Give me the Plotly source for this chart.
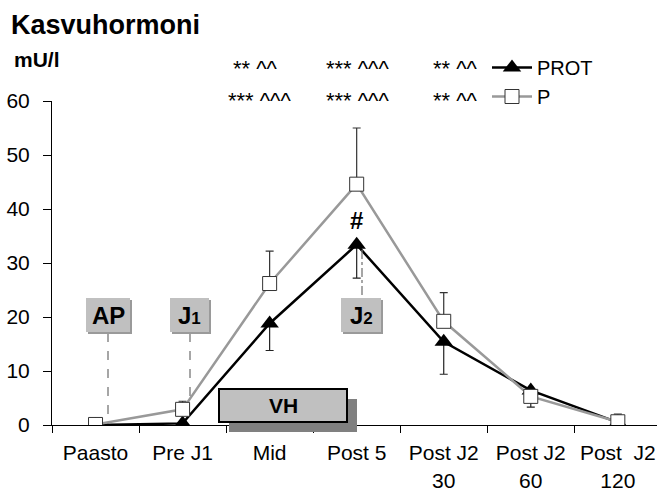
import plotly.graph_objects as go

categories = ["Paasto", "Pre J1", "Mid", "Post 5", "Post J2<br>30", "Post J2<br>60", "Post\u00a0\u00a0J2<br>120"]
prot_values = [0.0, 0.3, 18.8, 33.4, 15.4, 6.4, 0.5]
prot_err_minus = [0.0, 0.0, 5.0, 6.2, 6.0, 3.1, 0.0]
p_values = [0.1, 2.9, 26.2, 44.6, 19.2, 5.3, 0.6]
p_err_plus = [0.0, 1.5, 6.0, 10.4, 5.3, 0.0, 1.4]
sig_row1 = ["** ^^", "*** ^^^", "** ^^"]
sig_row2 = ["*** ^^^", "*** ^^^", "** ^^"]

W, H = 657, 491
L, R, T, B = 52, 0, 101, 66
PW, PH = W - L - R, H - T - B
FONT = "Arial, Liberation Sans, sans-serif"

def pxp(px):
    return (px - L) / PW

def pyp(py):
    return (H - B - py) / PH

fig = go.Figure()
fig.add_trace(go.Scatter(
    x=categories, y=prot_values, name="PROT", mode="lines+markers",
    line=dict(color="black", width=2.5),
    marker=dict(symbol="triangle-up", size=16, color="black"),
    error_y=dict(type="data", symmetric=False, array=[0]*7, arrayminus=prot_err_minus,
                 color="#222222", thickness=1.2, width=4),
))
fig.add_trace(go.Scatter(
    x=categories, y=p_values, name="P", mode="lines+markers",
    line=dict(color="#999999", width=2.5),
    marker=dict(symbol="square", size=14, color="white", line=dict(color="#333333", width=1)),
    error_y=dict(type="data", symmetric=False, array=p_err_plus, arrayminus=[0]*7,
                 color="#333333", thickness=1.2, width=4),
))

shapes = []
annotations = []

def box(x0, y0, x1, y1, text, shadow=2, fsize=24, border=None, sh_col="#9a9a9a"):
    shapes.append(dict(type="rect", xref="paper", yref="paper",
                       x0=pxp(x0 + shadow), x1=pxp(x1 + shadow),
                       y0=pyp(y0 + shadow), y1=pyp(y1 + shadow),
                       fillcolor=sh_col, line=dict(width=0)))
    shapes.append(dict(type="rect", xref="paper", yref="paper",
                       x0=pxp(x0), x1=pxp(x1), y0=pyp(y0), y1=pyp(y1),
                       fillcolor="#c0c0c0",
                       line=dict(width=2 if border else 0, color=border or "#c0c0c0")))
    annotations.append(dict(x=pxp((x0 + x1) / 2), y=pyp((y0 + y1) / 2), xref="paper", yref="paper",
                            xanchor="center", yanchor="middle",
                            text=text, showarrow=False,
                            font=dict(family=FONT, size=fsize, color="black")))

def vline(px, py0, py1, dash):
    shapes.append(dict(type="line", xref="paper", yref="paper", x0=pxp(px), x1=pxp(px),
                       y0=pyp(py0), y1=pyp(py1), line=dict(color="#777777", width=1.3, dash=dash)))

vline(108, 333, 424, "dash")
vline(190, 333, 401, "dash")
vline(362, 250, 298, "dashdot")

box(86, 298, 130, 332, "<b>AP</b>")
box(170, 298, 209, 332, "<b>J<span style='font-size:17px'>1</span></b>")
box(341, 298, 381, 332, "<b>J<span style='font-size:17px'>2</span></b>")
box(219, 389, 347, 422, "<b>VH</b>", shadow=10, fsize=21, border="black", sh_col="#808080")

# significance rows
for txt, px in zip(sig_row1, [256, 357, 455]):
    annotations.append(dict(x=pxp(px), y=pyp(68), xref="paper", yref="paper",
                            xanchor="center", yanchor="middle",
                            text=txt, showarrow=False, font=dict(family=FONT, size=22, color="black")))
for txt, px in zip(sig_row2, [259, 357, 455]):
    annotations.append(dict(x=pxp(px), y=pyp(100), xref="paper", yref="paper",
                            xanchor="center", yanchor="middle",
                            text=txt, showarrow=False, font=dict(family=FONT, size=22, color="black")))

annotations.append(dict(x=pxp(356), y=pyp(220), xref="paper", yref="paper", text="<b>#</b>",
                        xanchor="center", yanchor="middle",
                        showarrow=False, font=dict(family=FONT, size=24, color="black")))
annotations.append(dict(x=pxp(12), y=pyp(59), xref="paper", yref="paper",
                        xanchor="left", yanchor="middle", text="<b>mU/l</b>", showarrow=False,
                        font=dict(family=FONT, size=21, color="black")))

fig.update_layout(
    width=W, height=H,
    margin=dict(l=L, r=R, t=T, b=B, pad=0),
    paper_bgcolor="white", plot_bgcolor="white",
    title=dict(text="<b>Kasvuhormoni</b>", x=11 / W, xanchor="left", xref="container",
               y=1 - 25 / H, yanchor="middle", yref="container",
               font=dict(family=FONT, size=27, color="black")),
    font=dict(family=FONT, size=20, color="black"),
    showlegend=True,
    legend=dict(x=pxp(487), y=pyp(48), xanchor="left", yanchor="top",
                bgcolor="rgba(0,0,0,0)", font=dict(family=FONT, size=20, color="black"),
                tracegroupgap=0, itemwidth=40),
    xaxis=dict(type="category", range=[-0.5, 6.45], showline=True, linecolor="black", linewidth=1,
               ticks="outside", ticklen=7, tickcolor="black", tickson="boundaries",
               ticklabelstandoff=9,
               showgrid=False, zeroline=False, tickfont=dict(family=FONT, size=21)),
    yaxis=dict(range=[0, 60], tickvals=[0, 10, 20, 30, 40, 50, 60], showline=True,
               linecolor="black", linewidth=1, ticks="outside", ticklen=8, tickcolor="black",
               ticklabelstandoff=9,
               showgrid=False, zeroline=False, tickfont=dict(family=FONT, size=21)),
    shapes=shapes, annotations=annotations,
)

fig.write_html("out.html")
